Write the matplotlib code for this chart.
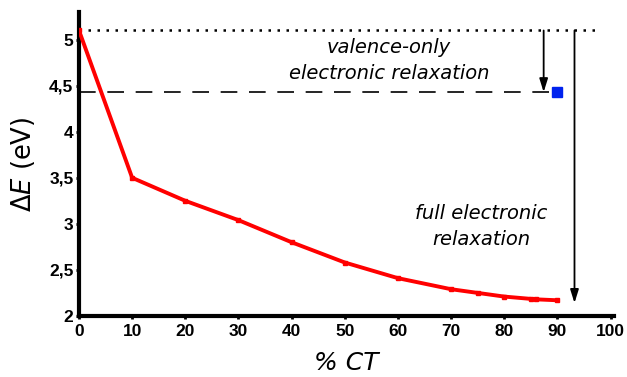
import matplotlib
matplotlib.use("Agg")
import matplotlib.pyplot as plt
from matplotlib.ticker import FuncFormatter

ct = [0, 10, 20, 30, 40, 50, 60, 70, 75, 80, 85, 86, 90]
dE = [5.1, 3.5, 3.25, 3.04, 2.80, 2.58, 2.41, 2.29, 2.25, 2.21, 2.185, 2.18, 2.17]
valence_ct = [90]
valence_dE = [4.43]
full_level = 5.1
valence_level = 4.43
xticks = [0, 10, 20, 30, 40, 50, 60, 70, 80, 90, 100]
yticks = [2, 2.5, 3, 3.5, 4, 4.5, 5]

fig = plt.figure(figsize=(6.27, 3.77), dpi=100)
ax = fig.add_axes([0.126, 0.162, 0.853, 0.806])

ax.plot(ct, dE, color="#ff0000", lw=2.8, marker="s", ms=3.5, zorder=3)
ax.plot(valence_ct, valence_dE, "s", color="#0022ee", ms=7, zorder=3)

ax.plot([0, 97.3], [full_level, full_level], color="black", lw=1.8,
        linestyle=(0, (1, 2.6)), zorder=2)
ax.plot([0, 88.5], [valence_level, valence_level], color="black", lw=1.2,
        linestyle=(0, (10, 7)), zorder=2)

ax.annotate("", xy=(87.4, valence_level), xytext=(87.4, full_level),
            arrowprops=dict(arrowstyle="-|>,head_length=0.8,head_width=0.25",
                            color="black", lw=1.3, shrinkA=0, shrinkB=0))
ax.annotate("", xy=(93.2, 2.14), xytext=(93.2, full_level),
            arrowprops=dict(arrowstyle="-|>,head_length=0.8,head_width=0.25",
                            color="black", lw=1.3, shrinkA=0, shrinkB=0))

ax.text(58.3, 4.77, "valence-only\nelectronic relaxation", ha="center", va="center",
        fontsize=14, style="italic", linespacing=1.45)
ax.text(75.6, 2.97, "full electronic\nrelaxation", ha="center", va="center",
        fontsize=14, style="italic", linespacing=1.45)

ax.set_xlim(0, 100.6)
ax.set_ylim(2, 5.3)
ax.set_xticks(xticks)
ax.set_yticks(yticks)
fmt = FuncFormatter(lambda v, p: ("%g" % v).replace(".", ","))
ax.yaxis.set_major_formatter(fmt)
ax.xaxis.set_major_formatter(fmt)
for lab in ax.get_xticklabels() + ax.get_yticklabels():
    lab.set_fontfamily("Liberation Sans")
    lab.set_fontweight("bold")
    lab.set_fontsize(12.5)
ax.tick_params(axis="x", length=2.5, width=2, pad=3)
ax.tick_params(axis="y", length=2.5, width=2, pad=1.5)

for s in ["top", "right"]:
    ax.spines[s].set_visible(False)
for s in ["left", "bottom"]:
    ax.spines[s].set_linewidth(3)

ax.set_ylabel(r"$\Delta E$ (eV)", fontsize=18.5, labelpad=9)
ax.set_xlabel("% CT", fontsize=18, style="italic", labelpad=9)

fig.savefig("out.png", dpi=100)
